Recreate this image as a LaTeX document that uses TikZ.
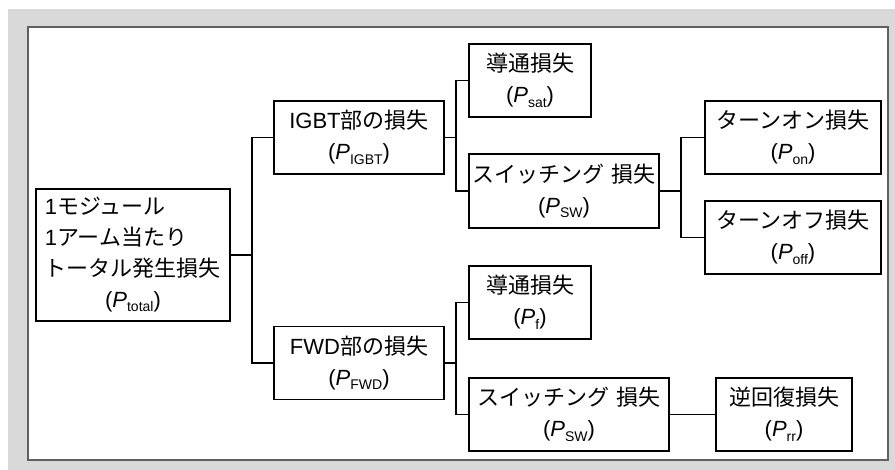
\documentclass[tikz,border=0pt]{standalone}
\usepackage{fontspec}
\setmainfont{Liberation Sans}
\newfontfamily\jp{Noto Sans CJK JP}
\newcommand{\J}[1]{{\jp #1}}
\newcommand{\Psub}[1]{({\itshape P}\raisebox{-0.35ex}{\fontsize{14}{14}\selectfont #1})}
\definecolor{bgray}{HTML}{D9D9D9}
\definecolor{framegray}{HTML}{606060}
\begin{document}
\begin{tikzpicture}[x=1pt,y=-1pt,
  box/.style={draw=black, line width=1.5pt, fill=white, inner sep=0pt, align=center,
    font=\fontsize{22}{31}\selectfont},
  conn/.style={line width=1.5pt}]
\useasboundingbox (0,0) rectangle (895,470);
\fill[bgray] (8,9) rectangle (895,470);
\draw[fill=white, draw=framegray, line width=1.5pt] (28,27) rectangle (888,460);

\node[box, minimum width=194pt, minimum height=132pt] (total) at (133,255)
  {\begin{tabular}{@{}l@{}}1\J{モジュール}\\1\J{アーム当たり}\\\J{トータル発生損失}\\\multicolumn{1}{@{}c@{}}{\Psub{total}}\end{tabular}};
\node[box, minimum width=170pt, minimum height=73pt] (igbt) at (359,137.5) {IGBT\J{部の損失}\\\Psub{IGBT}};
\node[box, minimum width=170pt, minimum height=73pt] (fwd) at (359,363) {FWD\J{部の損失}\\\Psub{FWD}};
\node[box, minimum width=122pt, minimum height=73pt] (sat) at (530,80.5) {\J{導通損失}\\\Psub{sat}};
\node[box, minimum width=190pt, minimum height=74pt] (swi) at (564,191) {\J{スイッチング} \J{損失}\\\Psub{SW}};
\node[box, minimum width=176pt, minimum height=73pt] (on) at (793,137.5) {\J{ターンオン損失}\\\Psub{on}};
\node[box, minimum width=176pt, minimum height=73pt] (off) at (793,237.5) {\J{ターンオフ損失}\\\Psub{off}};
\node[box, minimum width=122pt, minimum height=73pt] (pf) at (530,302.5) {\J{導通損失}\\\Psub{f}};
\node[box, minimum width=200pt, minimum height=73pt] (swf) at (569,414.5) {\J{スイッチング} \J{損失}\\\Psub{SW}};
\node[box, minimum width=136pt, minimum height=73pt] (rr) at (784,414.5) {\J{逆回復損失}\\\Psub{rr}};

\coordinate (j0) at (252,0);
\coordinate (j1) at (456,0);
\coordinate (j2) at (681,0);
\draw[conn] (total.east) -- (total.east -| j0);
\draw[conn] (igbt.west) -- (igbt.west -| j0) -- (fwd.west -| j0) -- (fwd.west);
\draw[conn] (igbt.east) -- (igbt.east -| j1);
\draw[conn] (sat.west) -- (sat.west -| j1) -- (swi.west -| j1) -- (swi.west);
\draw[conn] (swi.east) -- (swi.east -| j2);
\draw[conn] (on.west) -- (on.west -| j2) -- (off.west -| j2) -- (off.west);
\draw[conn] (fwd.east) -- (fwd.east -| j1);
\draw[conn] (pf.west) -- (pf.west -| j1) -- (swf.west -| j1) -- (swf.west);
\draw[conn] (swf.east) -- (rr.west);
\end{tikzpicture}
\end{document}
